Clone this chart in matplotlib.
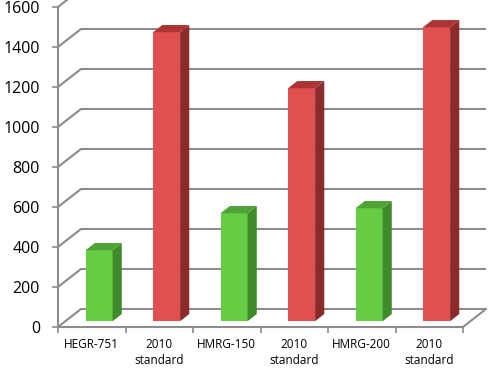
import matplotlib
matplotlib.use("Agg")
import matplotlib.pyplot as plt
import numpy as np

categories = ["HEGR-751", "2010\nstandard", "HMRG-150", "2010\nstandard", "HMRG-200", "2010\nstandard"]
values = [355, 1445, 540, 1165, 565, 1470]
kinds = ["g", "r", "g", "r", "g", "r"]
yticks = [0, 200, 400, 600, 800, 1000, 1200, 1400, 1600]

plt.rcParams['font.family'] = ['Open Sans', 'DejaVu Sans']

# face colours: front, top, side
cols = {"g": ("#66cc44", "#4fa236", "#3f8a2a"),
        "r": ("#e05050", "#ad3434", "#8c2b2b")}
grid_c = "#8c8c8c"

fig = plt.figure(figsize=(5, 3.69), dpi=100)
ax = fig.add_axes([58/500, 42/369, 405/500, 320/369])
ax.set_xlim(0, 6)
ax.set_ylim(0, 1600)

# depth of the box in data units
DX, DY = 0.34, 90
f0, f1 = 0.32, 0.72
n = len(values)

# back wall gridlines + left wall diagonals + floor
for v in yticks:
    ax.plot([0, DX, n + DX], [v, v + DY, v + DY], color=grid_c, lw=1.5,
            clip_on=False, zorder=1, solid_capstyle='butt')
ax.plot([n, n + DX], [0, DY], color=grid_c, lw=1.5, clip_on=False, zorder=1)

# bars
w = 0.4
for i, (v, k) in enumerate(zip(values, kinds)):
    front, top, side = cols[k]
    x0 = i + 0.5 - w / 2 + f0 * DX
    y0 = f0 * DY
    ax.bar(x0, v, width=w, bottom=y0, align='edge', color=front, zorder=3,
           linewidth=0, clip_on=False)
    ddx = (f1 - f0) * DX
    ddy = (f1 - f0) * DY
    ax.fill([x0 + w, x0 + w + ddx, x0 + w + ddx, x0 + w],
            [y0, y0 + ddy, y0 + v + ddy, y0 + v], color=side, zorder=3,
            linewidth=0, clip_on=False)
    ax.fill([x0, x0 + w, x0 + w + ddx, x0 + ddx],
            [y0 + v, y0 + v, y0 + v + ddy, y0 + v + ddy], color=top, zorder=3,
            linewidth=0, clip_on=False)

for s in ["top", "right"]:
    ax.spines[s].set_visible(False)
for s in ["left", "bottom"]:
    ax.spines[s].set_color(grid_c)
    ax.spines[s].set_linewidth(1.5)
    ax.spines[s].set_zorder(2)

ax.set_yticks(yticks)
ax.set_yticklabels([str(t) for t in yticks], fontsize=11.5)
ax.tick_params(axis='y', length=4, width=1.2, color=grid_c, pad=9)

ax.set_xticks(range(n + 1))
ax.set_xticklabels([""] * (n + 1))
ax.set_xticks(np.arange(n) + 0.5, minor=True)
ax.set_xticklabels(categories, minor=True, fontsize=8.5, linespacing=1.3)
ax.tick_params(axis='x', which='major', length=4, width=1.2, color=grid_c)
ax.tick_params(axis='x', which='minor', length=0, pad=8)
ax.patch.set_visible(False)

fig.savefig("out.png", dpi=100)
